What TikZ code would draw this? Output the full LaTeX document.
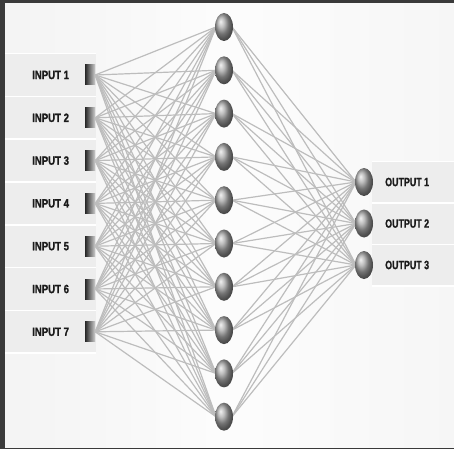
\documentclass[tikz,border=0pt]{standalone}
\usepackage{fontspec}
\setmainfont{Liberation Sans}
\newfontfamily\infont{Liberation Sans}[FakeStretch=0.8,FakeBold=1.2]
\newfontfamily\outfont{Liberation Sans}[FakeStretch=0.74,FakeBold=1.2]
\usetikzlibrary{shapes.geometric}
\definecolor{frame}{HTML}{3A3A3A}
\definecolor{band}{HTML}{EDEDED}
\definecolor{wire}{HTML}{BDBDBD}
\definecolor{txt}{HTML}{1A1A1A}
\tikzset{
  inbox/.style={rectangle, minimum width=10pt, minimum height=20pt, inner sep=0pt,
    left color=black!85, right color=gray!40},
  neuron/.style={ellipse, minimum width=18pt, minimum height=28pt, inner sep=0pt,
    shading=ball, ball color=gray!70},
  wirestyle/.style={draw=wire, line width=1.2pt},
  inlabel/.style={anchor=west, inner sep=0pt, text=txt, font=\infont\bfseries\fontsize{12}{13}\selectfont},
  outlabel/.style={anchor=west, inner sep=0pt, text=txt, font=\outfont\bfseries\fontsize{12}{13}\selectfont},
  sep/.style={draw=white, line width=1.5pt}
}
\begin{document}
\begin{tikzpicture}[x=1pt, y=-1pt]
\useasboundingbox (0,0) rectangle (454,449);
% background
\fill[frame] (0,0) rectangle (454,449);
\shade[left color=gray!9, right color=gray!7, middle color=white!98!gray] (5,4) rectangle (454,447);
% input bands
\foreach \j in {1,...,7} {
  \pgfmathsetmacro{\yy}{75+42.8*(\j-1)}
  \fill[band] (5,\yy-21.4) rectangle (96,\yy+21.4);
  \draw[sep] (5,\yy-21.4) -- (96,\yy-21.4);
}
\draw[sep] (5,353) -- (96,353);
% output bands
\foreach \m in {1,2,3} {
  \pgfmathsetmacro{\yy}{182+41.5*(\m-1)}
  \fill[band] (372,\yy-20.7) rectangle (454,\yy+20.7);
  \draw[sep] (372,\yy-20.7) -- (454,\yy-20.7);
}
\draw[sep] (372,286) -- (454,286);
% nodes
\foreach \j in {1,...,7}
  \node[inbox] (i\j) at (90,{75+42.8*(\j-1)}) {};
\foreach \k in {1,...,10}
  \coordinate (hc\k) at (224,{27+43.3*(\k-1)});
\foreach \m in {1,2,3}
  \coordinate (oc\m) at (364,{182+41.5*(\m-1)});
% wires
\foreach \k in {1,...,10} {
  \foreach \j in {1,...,7}
    \draw[wirestyle] (i\j.east) -- ([xshift=-8pt]hc\k);
  \foreach \m in {1,2,3}
    \draw[wirestyle] ([xshift=8pt]hc\k) -- ([xshift=-8pt]oc\m);
}
\foreach \j in {1,...,7}
  \node[inbox] at (i\j) {};
\foreach \k in {1,...,10}
  \node[neuron] (h\k) at (hc\k) {};
\foreach \m in {1,2,3}
  \node[neuron] (o\m) at (oc\m) {};
% labels
\foreach \j in {1,...,7}
  \node[inlabel] (li\j) at (32,{75+42.8*(\j-1)}) {INPUT \j};
\foreach \m in {1,2,3}
  \node[outlabel] (lo\m) at (385,{182+41.5*(\m-1)}) {OUTPUT \m};
\end{tikzpicture}
\end{document}
